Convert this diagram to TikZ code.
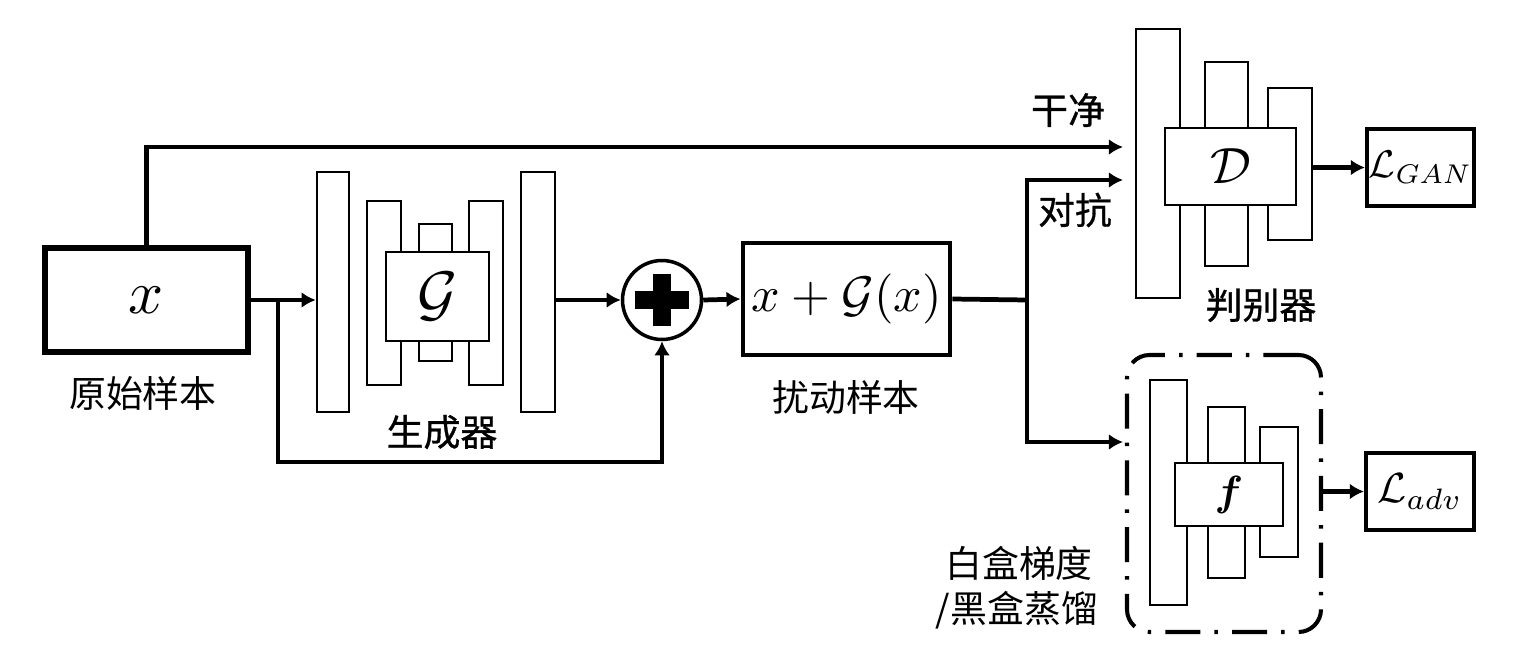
\documentclass[tikz,border=0pt]{standalone}
\usepackage{graphicx}
\usepackage{bm}
\usepackage{fontspec}
\newfontfamily\cjk{Noto Sans CJK SC}
\newfontfamily\cjkb[FakeBold=0.8]{Noto Sans CJK SC}
\usetikzlibrary{fit,arrows.meta}
\newcommand{\myscm}[2]{\scalebox{#1}{$#2$}}
\begin{document}
\begin{tikzpicture}[x=0.02cm,y=-0.02cm,
  bar/.style={draw, line width=1.5pt, inner sep=0pt, fill=white},
  inbox/.style={draw, line width=1.4pt, inner sep=0pt, fill=white},
  box/.style={draw, line width=2.8pt, inner sep=0pt, fill=white},
  lbox/.style={draw, line width=2.4pt, inner sep=0pt, fill=white},
  arr/.style={line width=2.7pt, -{Latex[length=8pt,width=9pt]}},
  ln/.style={line width=2.7pt},
  zh/.style={font=\cjk\fontsize{21}{24}\selectfont, inner sep=0pt},
  zhb/.style={font=\cjkb\fontsize{21}{24}\selectfont, inner sep=0pt},
  mth/.style={inner sep=0pt},
  dashdot/.style={draw, line width=2.3pt, rounded corners=0.45cm, inner sep=0pt,
    dash pattern=on 20pt off 8pt on 2pt off 8pt}
]
\useasboundingbox (0,0) rectangle (1536,660);

% input box
\node[box, line width=3pt, fit={(45,248)(248,352)}] (xb) {};
\node[mth] (xt) at (xb.center) {\myscm{3.5}{x}};
\node[zh] (lx) at (143,393) {原始样本};

% generator
\node[bar, fit={(317,172)(349,412)}] (g1) {};
\node[bar, fit={(367,201)(401,385)}] (g2) {};
\node[bar, fit={(419,224)(452,361)}] (g3) {};
\node[bar, fit={(469,201)(503,385)}] (g4) {};
\node[bar, fit={(521,172)(555,412)}] (g5) {};
\node[inbox, fit={(386,252)(489,341)}] (gb) {};
\node[mth] (gt) at (gb.center) {\myscm{3.5}{\mathcal{G}}};
\node[zhb] (lg) at (442,432) {生成器};

% adder
\node[circle, draw, line width=2pt, minimum size=1.58cm, inner sep=0pt] (plus) at (662,300) {};
\fill ([shift={(-27,-9)}]plus.center) rectangle ([shift={(27,9)}]plus.center);
\fill ([shift={(-9,-26)}]plus.center) rectangle ([shift={(9,26)}]plus.center);

% perturbed sample
\node[box, fit={(743,243)(950,355)}] (xg) {};
\node[mth] (xgt) at (xg.center) {\myscm{2.85}{x+\mathcal{G}(x)}};
\node[zh] (lxg) at (846,397) {扰动样本};

% discriminator
\node[bar, fit={(1136,29)(1180,298)}] (d1) {};
\node[bar, fit={(1205,62)(1248,266)}] (d2) {};
\node[bar, fit={(1268,88)(1312,240)}] (d3) {};
\node[inbox, fit={(1165,128)(1296,205)}] (db) {};
\node[mth] (dt) at (db.center) {\myscm{2.9}{\mathcal{D}}};
\node[zhb] (ld) at (1261,305) {判别器};
\node[lbox, fit={(1367,129)(1474,206)}] (lgan) {};
\node[mth] (lgant) at (lgan.center) {\myscm{2.2}{\mathcal{L}_{GAN}}};

% target model
\node[dashdot, fit={(1127,355)(1321,632)}] (fw) {};
\node[bar, fit={(1150,380)(1187,605)}] (f1) {};
\node[bar, fit={(1208,407)(1245,578)}] (f2) {};
\node[bar, fit={(1260,427)(1298,557)}] (f3) {};
\node[inbox, fit={(1175,463)(1283,526)}] (fb) {};
\node[mth] (ft) at (fb.center) {\myscm{2.4}{\bm{f}}};
\node[lbox, fit={(1366,453)(1474,530)}] (ladv) {};
\node[mth] (ladvt) at (ladv.center) {\myscm{2.4}{\mathcal{L}_{adv}}};
\node[zh] (lw1) at (1019,563) {白盒梯度};
\node[zh] (lw2) at (1017,610) {/黑盒蒸馏};

% labels on the discriminator inputs
\node[zhb] (lc) at (1068,110) {干净};
\node[zhb] (la) at (1075,210) {对抗};

% coordinates
\coordinate (j1) at (278,300);
\coordinate (b1) at (278,462);
\coordinate (j2) at (1027,300);
\coordinate (tcl) at (1123,147);
\coordinate (tadv) at (1123,180);
\coordinate (tf) at (1123,442);

% connectors
\draw[arr] (xb.east |- j1) -- (g1.west |- j1);
\draw[arr] (j1) -- (b1) -| (plus.south);
\draw[arr] (g5.east |- plus.west) -- (plus.west);
\draw[arr] (plus.east) -- (xg.west);
\draw[ln] (xg.east) -- (j2);
\draw[arr] (j2) |- (tadv);
\draw[arr] (j2) |- (tf);
\draw[arr] (xb.north) |- (tcl);
\draw[arr] (d3.east |- lgan.west) -- (lgan.west);
\draw[arr] (fw.east |- ladv.west) -- (ladv.west);
\end{tikzpicture}
\end{document}
